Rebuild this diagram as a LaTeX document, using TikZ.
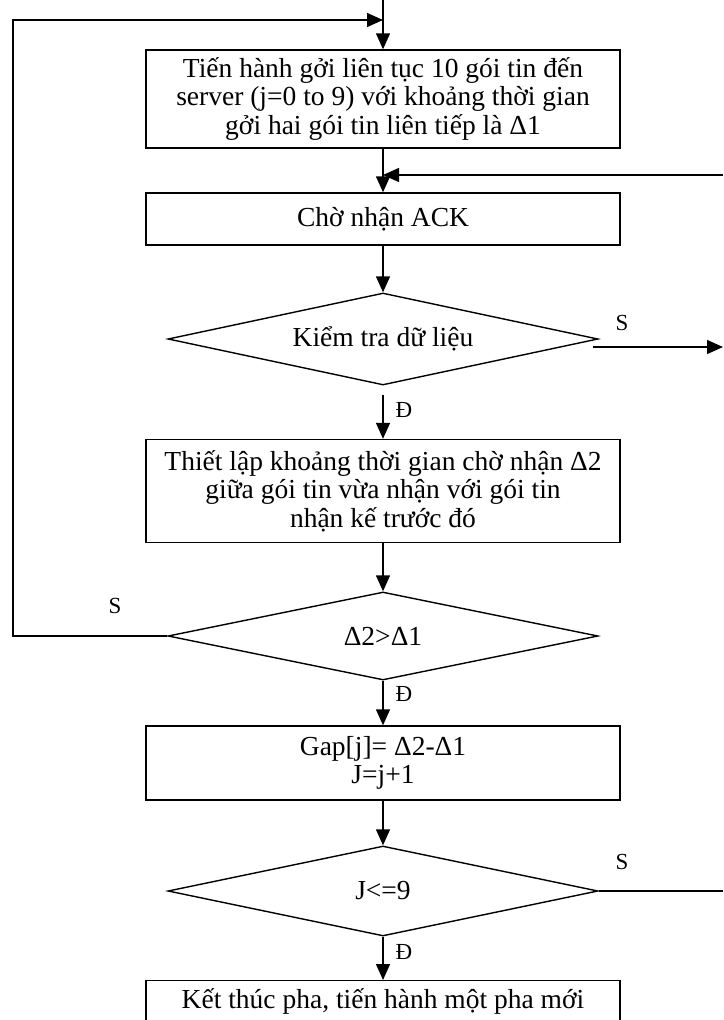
\documentclass[tikz,border=0pt]{standalone}
\usepackage{fontspec}
\setmainfont{Liberation Serif}
\usepackage{tikz}
\usetikzlibrary{arrows.meta,shapes.geometric,positioning,calc}
\tikzset{
  % flow arrow with filled head
  arr/.style={-{Triangle[length=16pt,width=14pt]}, line width=1.4pt},
  % plain connector
  plainline/.style={line width=1.4pt},
  % process box
  procbox/.style={rectangle, draw, line width=1.4pt, minimum width=474pt, align=center,
                  font=\fontsize{27.5}{28.5}\selectfont, inner sep=4pt},
  % decision node
  decnode/.style={diamond, draw, line width=1.4pt, aspect=4.5, minimum width=430pt,
                  minimum height=92pt, inner sep=0pt, font=\fontsize{27.5}{28}\selectfont},
  % branch label
  brlabel/.style={font=\fontsize{23}{26}\selectfont, inner sep=0pt},
}
\begin{document}
\begin{tikzpicture}[x=1pt,y=-1pt]
  \useasboundingbox (0,0) rectangle (723,1020);
  \clip (0,0) rectangle (723,1020);
  \fill[white] (0,0) rectangle (723,1020);
  % boxes and decisions
  \node[procbox, minimum height=98pt] (send) at (383,99)
    {Tiến hành gởi liên tục 10 gói tin đến\\server (j=0 to 9) với khoảng thời gian\\gởi hai gói tin liên tiếp là Δ1};
  \node[procbox, minimum height=52pt] (wait) at (383,219) {Chờ nhận ACK};
  \node[decnode] (check) at (383,339) {Kiểm tra dữ liệu};
  \node[procbox, minimum height=103pt] (setgap) at (383,491)
    {Thiết lập khoảng thời gian chờ nhận Δ2\\giữa gói tin vừa nhận với gói tin\\nhận kế trước đó};
  \node[decnode, minimum height=88pt] (cmp) at (383,636) {Δ2>Δ1};
  \node[procbox, minimum height=74pt] (gap) at (383,763) {Gap[j]= Δ2-Δ1\\J=j+1};
  \node[decnode, minimum height=90pt] (cnt) at (383,891) {J<=9};
  \node[procbox, anchor=north, text height=24pt, text depth=34pt] (endph) at (383,980)
    {Kết thúc pha, tiến hành một pha mới};
  % free ends
  \coordinate (start) at (383,0);
  \coordinate (join1) at (383,20);
  \coordinate (join2) at (383,175);
  \coordinate (rout) at (723,347);
  \coordinate (rin) at (723,175);
  \coordinate (rout2) at (723,891);
  % connectors
  \draw[arr] (start) -- (send.north);
  \draw[arr] (send.south) -- (wait.north);
  \draw[arr] (wait.south) -- (check.north);
  \draw[arr, shorten <=9pt] (check.south) -- (setgap.north) node[brlabel, pos=0.45, right=12pt]{Đ};
  \draw[arr] ([xshift=-6pt,yshift=-8pt]check.east) -- (rout);
  \node[brlabel] (s1) at (622,323) {S};
  \draw[arr] (rin) -- (join2);
  \draw[arr] (setgap.south) -- (cmp.north);
  \draw[arr] (cmp.west) -- (13,636) |- (join1);
  \node[brlabel] (s2) at (115,606) {S};
  \draw[arr] (cmp.south) -- (gap.north) node[brlabel, pos=0.3, right=12pt]{Đ};
  \draw[arr] (gap.south) -- (cnt.north);
  \draw[plainline] (cnt.east) -- (rout2);
  \node[brlabel] (s3) at (622,862) {S};
  \draw[arr] (cnt.south) -- (endph.north) node[brlabel, pos=0.35, right=12pt]{Đ};
\end{tikzpicture}
\end{document}
